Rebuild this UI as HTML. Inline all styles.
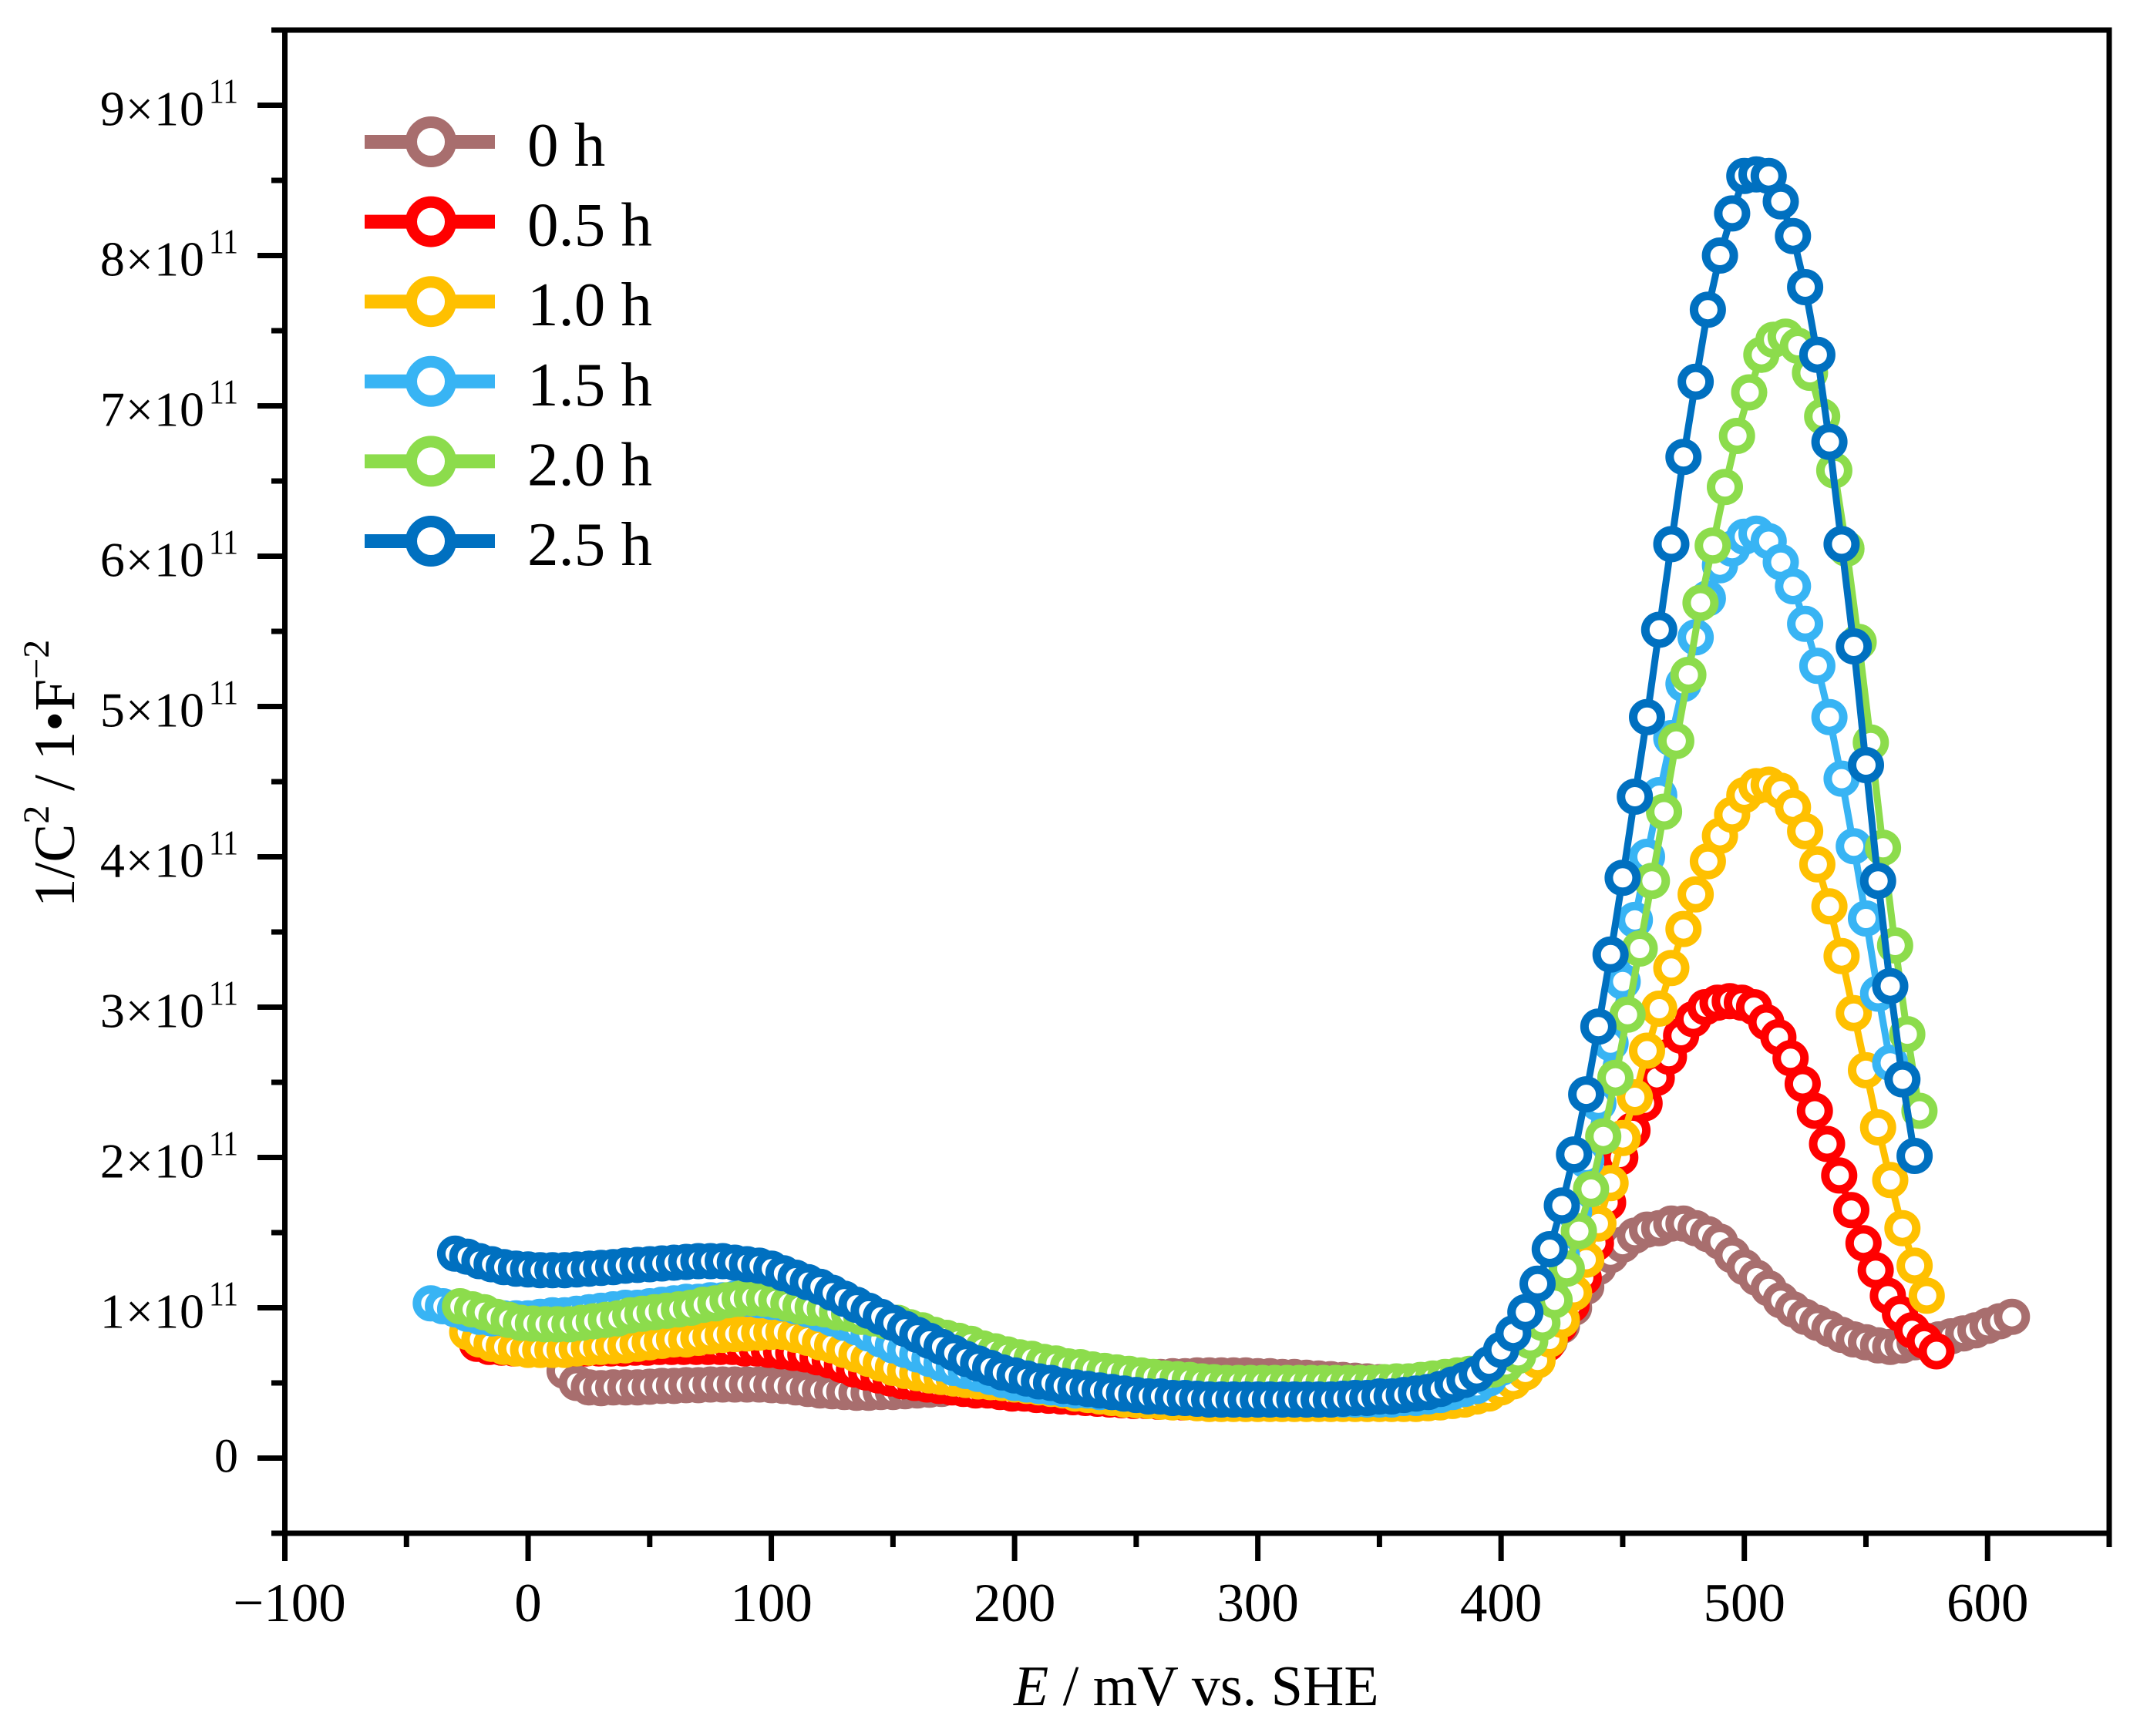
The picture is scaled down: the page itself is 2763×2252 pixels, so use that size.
<!DOCTYPE html>
<html lang="en">
<head>
<meta charset="utf-8">
<title>Mott-Schottky plot</title>
<style>
html,body{margin:0;padding:0;background:#fff;}
svg{display:block;font-family:"Liberation Serif",serif;}
</style>
</head>
<body>
<svg id="chart" xmlns="http://www.w3.org/2000/svg" width="2763" height="2252" viewBox="0 0 2763 2252">
  <rect width="2763" height="2252" fill="#fff"/>
  <g id="series-layer"></g>
  <rect x="369.5" y="39" width="2366.5" height="1950" fill="none" stroke="#000" stroke-width="7"/>
  <g id="axis-layer"></g>
  <g id="legend-layer"></g>
  <text x="1315" y="2212" font-size="74" fill="#000"><tspan font-style="italic">E</tspan> / mV vs. SHE</text>
  <text transform="translate(96,1177) rotate(-90)" font-size="75" fill="#000">1/C<tspan font-size="48" dy="-33">2</tspan><tspan dy="33"> / 1•F</tspan><tspan font-size="48" dy="-33">−2</tspan></text>
</svg>
<script>
// Potentials run from each series' start value in steps of potentialStep (mV).
// Values are 1/C² in units of 10^11 F^-2.
const potentialStep = 5;
const seriesNames = ["0 h", "0.5 h", "1.0 h", "1.5 h", "2.0 h", "2.5 h"];
const seriesColors = ["#A86E6E", "#FF0000", "#FFC000", "#38B4F4", "#8CDC4C", "#0070C0"];
const seriesStarts = [15, -21, -25, -40, -28, -30];

const values0h = [
  .58,.50,.47,.465,.47,.47,.47,.475,.48,.48,
  .485,.485,.49,.49,.49,.49,.49,.485,.48,.47,
  .46,.45,.445,.44,.435,.435,.44,.44,.445,.45,
  .455,.46,.47,.475,.48,.485,.49,.495,.50,.505,
  .51,.515,.52,.525,.53,.53,.535,.535,.54,.54,
  .545,.545,.55,.55,.55,.55,.55,.545,.545,.54,
  .54,.535,.53,.525,.52,.515,.51,.505,.50,.50,
  .50,.50,.505,.51,.515,.52,.53,.55,.58,.62,
  .69,.78,.88,1.0,1.14,1.27,1.35,1.42,1.48,1.52,
  1.53,1.56,1.56,1.53,1.49,1.44,1.35,1.27,1.20,1.13,
  1.05,.99,.94,.90,.86,.82,.79,.77,.75,.74,
  .75,.77,.78,.79,.81,.83,.85,.88,.91,.94
];
const values05h = [
  .76,.74,.735,.73,.73,.73,.73,.73,.73,.73,
  .73,.73,.73,.735,.735,.74,.74,.74,.74,.74,
  .74,.74,.73,.73,.72,.71,.70,.69,.67,.65,
  .62,.59,.57,.55,.53,.51,.50,.49,.48,.47,
  .46,.45,.45,.44,.43,.43,.42,.415,.41,.405,
  .40,.395,.39,.385,.38,.38,.375,.375,.37,.37,
  .37,.37,.37,.37,.37,.37,.37,.37,.37,.37,
  .37,.37,.37,.37,.37,.37,.37,.37,.375,.38,
  .385,.40,.42,.45,.48,.52,.58,.66,.76,.88,
  1.02,1.2,1.43,1.70,2.0,2.18,2.36,2.53,2.67,2.81,
  2.92,3.0,3.03,3.04,3.03,3.0,2.90,2.80,2.66,2.49,
  2.31,2.09,1.88,1.65,1.43,1.25,1.08,.96,.85,.78,
  .71
];
const values10h = [
  .84,.79,.76,.74,.73,.72,.72,.72,.72,.73,
  .735,.74,.745,.75,.76,.77,.78,.79,.79,.80,
  .81,.82,.825,.83,.835,.84,.84,.82,.80,.77,
  .75,.72,.69,.66,.63,.60,.58,.565,.55,.54,
  .53,.52,.51,.505,.50,.49,.48,.47,.46,.45,
  .43,.42,.41,.40,.39,.385,.38,.375,.37,.37,
  .365,.36,.36,.36,.36,.36,.36,.36,.36,.36,
  .36,.36,.36,.36,.36,.36,.36,.36,.36,.365,
  .37,.38,.39,.41,.43,.47,.51,.57,.65,.79,
  .92,1.10,1.32,1.56,1.83,2.13,2.40,2.71,2.99,3.26,
  3.52,3.75,3.97,4.14,4.28,4.41,4.47,4.48,4.44,4.33,
  4.17,3.95,3.67,3.34,2.96,2.58,2.20,1.85,1.53,1.28,
  1.08
];
const values15h = [
  1.03,1.01,.99,.96,.94,.93,.93,.93,.93,.94,
  .95,.95,.96,.97,.98,.99,1.0,1.0,1.01,1.02,
  1.03,1.04,1.04,1.05,1.05,1.06,1.06,1.05,1.04,1.03,
  1.01,.99,.96,.93,.90,.87,.83,.79,.75,.72,
  .69,.66,.63,.60,.58,.56,.54,.52,.50,.49,
  .48,.47,.46,.45,.45,.44,.44,.43,.43,.42,
  .42,.41,.41,.40,.40,.39,.39,.39,.39,.39,
  .39,.39,.39,.39,.39,.39,.39,.39,.39,.39,
  .40,.40,.41,.42,.44,.46,.48,.53,.60,.69,
  .80,.94,1.12,1.35,1.64,1.98,2.36,2.76,3.17,3.58,
  4.0,4.41,4.79,5.15,5.46,5.72,5.94,6.05,6.13,6.15,
  6.10,5.96,5.80,5.55,5.27,4.93,4.52,4.07,3.59,3.09,
  2.63
];
const values20h = [
  1.01,.99,.97,.94,.92,.90,.895,.89,.89,.89,
  .90,.91,.92,.93,.95,.96,.97,.98,.99,1.0,
  1.02,1.03,1.05,1.06,1.065,1.06,1.05,1.03,1.01,1.0,
  .99,.97,.96,.94,.93,.91,.90,.87,.85,.82,
  .80,.78,.76,.73,.71,.69,.67,.66,.64,.63,
  .61,.605,.59,.58,.57,.56,.55,.54,.53,.525,
  .52,.51,.505,.50,.50,.50,.50,.50,.50,.50,
  .50,.50,.50,.50,.50,.50,.505,.51,.51,.52,
  .53,.54,.55,.56,.575,.59,.62,.68,.78,.90,
  1.05,1.26,1.51,1.79,2.14,2.53,2.95,3.39,3.84,4.30,
  4.77,5.21,5.69,6.07,6.46,6.80,7.09,7.34,7.44,7.46,
  7.40,7.22,6.93,6.57,6.05,5.43,4.76,4.06,3.41,2.82,
  2.31
];
const values25h = [
  1.36,1.34,1.31,1.29,1.27,1.26,1.255,1.25,1.25,1.25,
  1.255,1.26,1.265,1.27,1.28,1.285,1.29,1.295,1.30,1.305,
  1.31,1.31,1.31,1.30,1.29,1.28,1.26,1.23,1.20,1.17,
  1.14,1.10,1.06,1.02,.98,.94,.90,.86,.82,.78,
  .74,.70,.66,.63,.60,.57,.55,.53,.51,.50,
  .48,.47,.46,.45,.44,.43,.42,.41,.41,.40,
  .40,.395,.39,.39,.39,.39,.39,.39,.39,.39,
  .39,.39,.39,.395,.40,.40,.41,.41,.42,.43,
  .44,.46,.49,.52,.56,.625,.72,.83,.97,1.16,
  1.39,1.68,2.02,2.42,2.87,3.35,3.86,4.40,4.93,5.51,
  6.08,6.66,7.16,7.64,8.0,8.28,8.53,8.54,8.53,8.36,
  8.13,7.79,7.34,6.76,6.08,5.40,4.61,3.84,3.14,2.52,
  2.01
];
const allSeries = [values0h, values05h, values10h, values15h, values20h, values25h];

const xMajorTicks = [-100, 0, 100, 200, 300, 400, 500, 600];
const xMinorTicks = [-50, 50, 150, 250, 350, 450, 550, 650];
const yMajorTicks = [0, 1, 2, 3, 4, 5, 6, 7, 8, 9];
const yMinorTicks = [-0.5, 0.5, 1.5, 2.5, 3.5, 4.5, 5.5, 6.5, 7.5, 8.5, 9.5];
const yTickExponent = "11";

const SVGNS = "http://www.w3.org/2000/svg";
const xScale = v => 369.5 + (v + 100) * (2736 - 369.5) / 750;
const yScale = v => 1989 - (v + 0.5) * (1989 - 39) / 10;

function make(tag, attrs, parent, txt) {
  const el = document.createElementNS(SVGNS, tag);
  for (const k in attrs) el.setAttribute(k, attrs[k]);
  if (txt !== undefined) el.textContent = txt;
  parent.appendChild(el);
  return el;
}

const seriesLayer = document.getElementById("series-layer");
const axisLayer = document.getElementById("axis-layer");
const legendLayer = document.getElementById("legend-layer");

allSeries.forEach((vals, s) => {
  const color = seriesColors[s];
  const group = make("g", {}, seriesLayer);
  
  
  const pts = vals.map((v, i) => [xScale(seriesStarts[s] + i * potentialStep), yScale(v)]);
  const line = make("polyline", {
    points: pts.map(p => p[0].toFixed(1) + "," + p[1].toFixed(1)).join(" "),
    fill: "none", stroke: color, "stroke-width": 9, "stroke-linejoin": "round"
  }, group);
  
  
  pts.forEach(p => {
    const dot = make("circle", {
      cx: p[0].toFixed(1), cy: p[1].toFixed(1), r: 18,
      fill: "#fff", stroke: color, "stroke-width": 11
    }, group);
    
    
  });
});

xMajorTicks.forEach(v => {
  const x = xScale(v);
  const tick = make("line", {x1: x, x2: x, y1: 1989, y2: 2025, stroke: "#000", "stroke-width": 7}, axisLayer);
  
  
  const label = make("text", {x: v < 0 ? x + 6 : x, y: 2103, "font-size": 71, "text-anchor": "middle", fill: "#000"}, axisLayer,
    v < 0 ? "\u2212" + Math.abs(v) : String(v));
  
  
});
xMinorTicks.forEach(v => {
  const x = xScale(v);
  const tick = make("line", {x1: x, x2: x, y1: 1989, y2: 2007, stroke: "#000", "stroke-width": 7}, axisLayer);
  
  
});
yMajorTicks.forEach(v => {
  const y = yScale(v);
  const tick = make("line", {x1: 334, x2: 369.5, y1: y, y2: y, stroke: "#000", "stroke-width": 7}, axisLayer);
  
  
  if (v === 0) {
    const zero = make("text", {x: 309, y: y + 18, "font-size": 62, "text-anchor": "end", fill: "#000"}, axisLayer, "0");
    
    
  } else {
    const label = make("text", {x: 266, y: y + 26, "font-size": 64, "text-anchor": "end", fill: "#000", "letter-spacing": "1"}, axisLayer, v + "\u00D710");
    
    
    const sup = make("text", {x: 271, y: y - 3, "font-size": 46, textLength: 38, lengthAdjust: "spacingAndGlyphs", fill: "#000"}, axisLayer, yTickExponent);
    
    
  }
});
yMinorTicks.forEach(v => {
  const y = yScale(v);
  const tick = make("line", {x1: 352, x2: 369.5, y1: y, y2: y, stroke: "#000", "stroke-width": 7}, axisLayer);
  
  
});

seriesNames.forEach((name, s) => {
  const cy = 184 + 103.6 * s;
  const entry = make("g", {}, legendLayer);
  
  
  const swatch = make("line", {x1: 473, x2: 642, y1: cy, y2: cy, stroke: seriesColors[s], "stroke-width": 18}, entry);
  
  
  const marker = make("circle", {cx: 559, cy: cy, r: 25.5, fill: "#fff", stroke: seriesColors[s], "stroke-width": 15}, entry);
  
  
  const label = make("text", {x: 684, y: cy + 31, "font-size": 81, fill: "#000"}, entry, name);
  
  
});
</script>
</body>
</html>
